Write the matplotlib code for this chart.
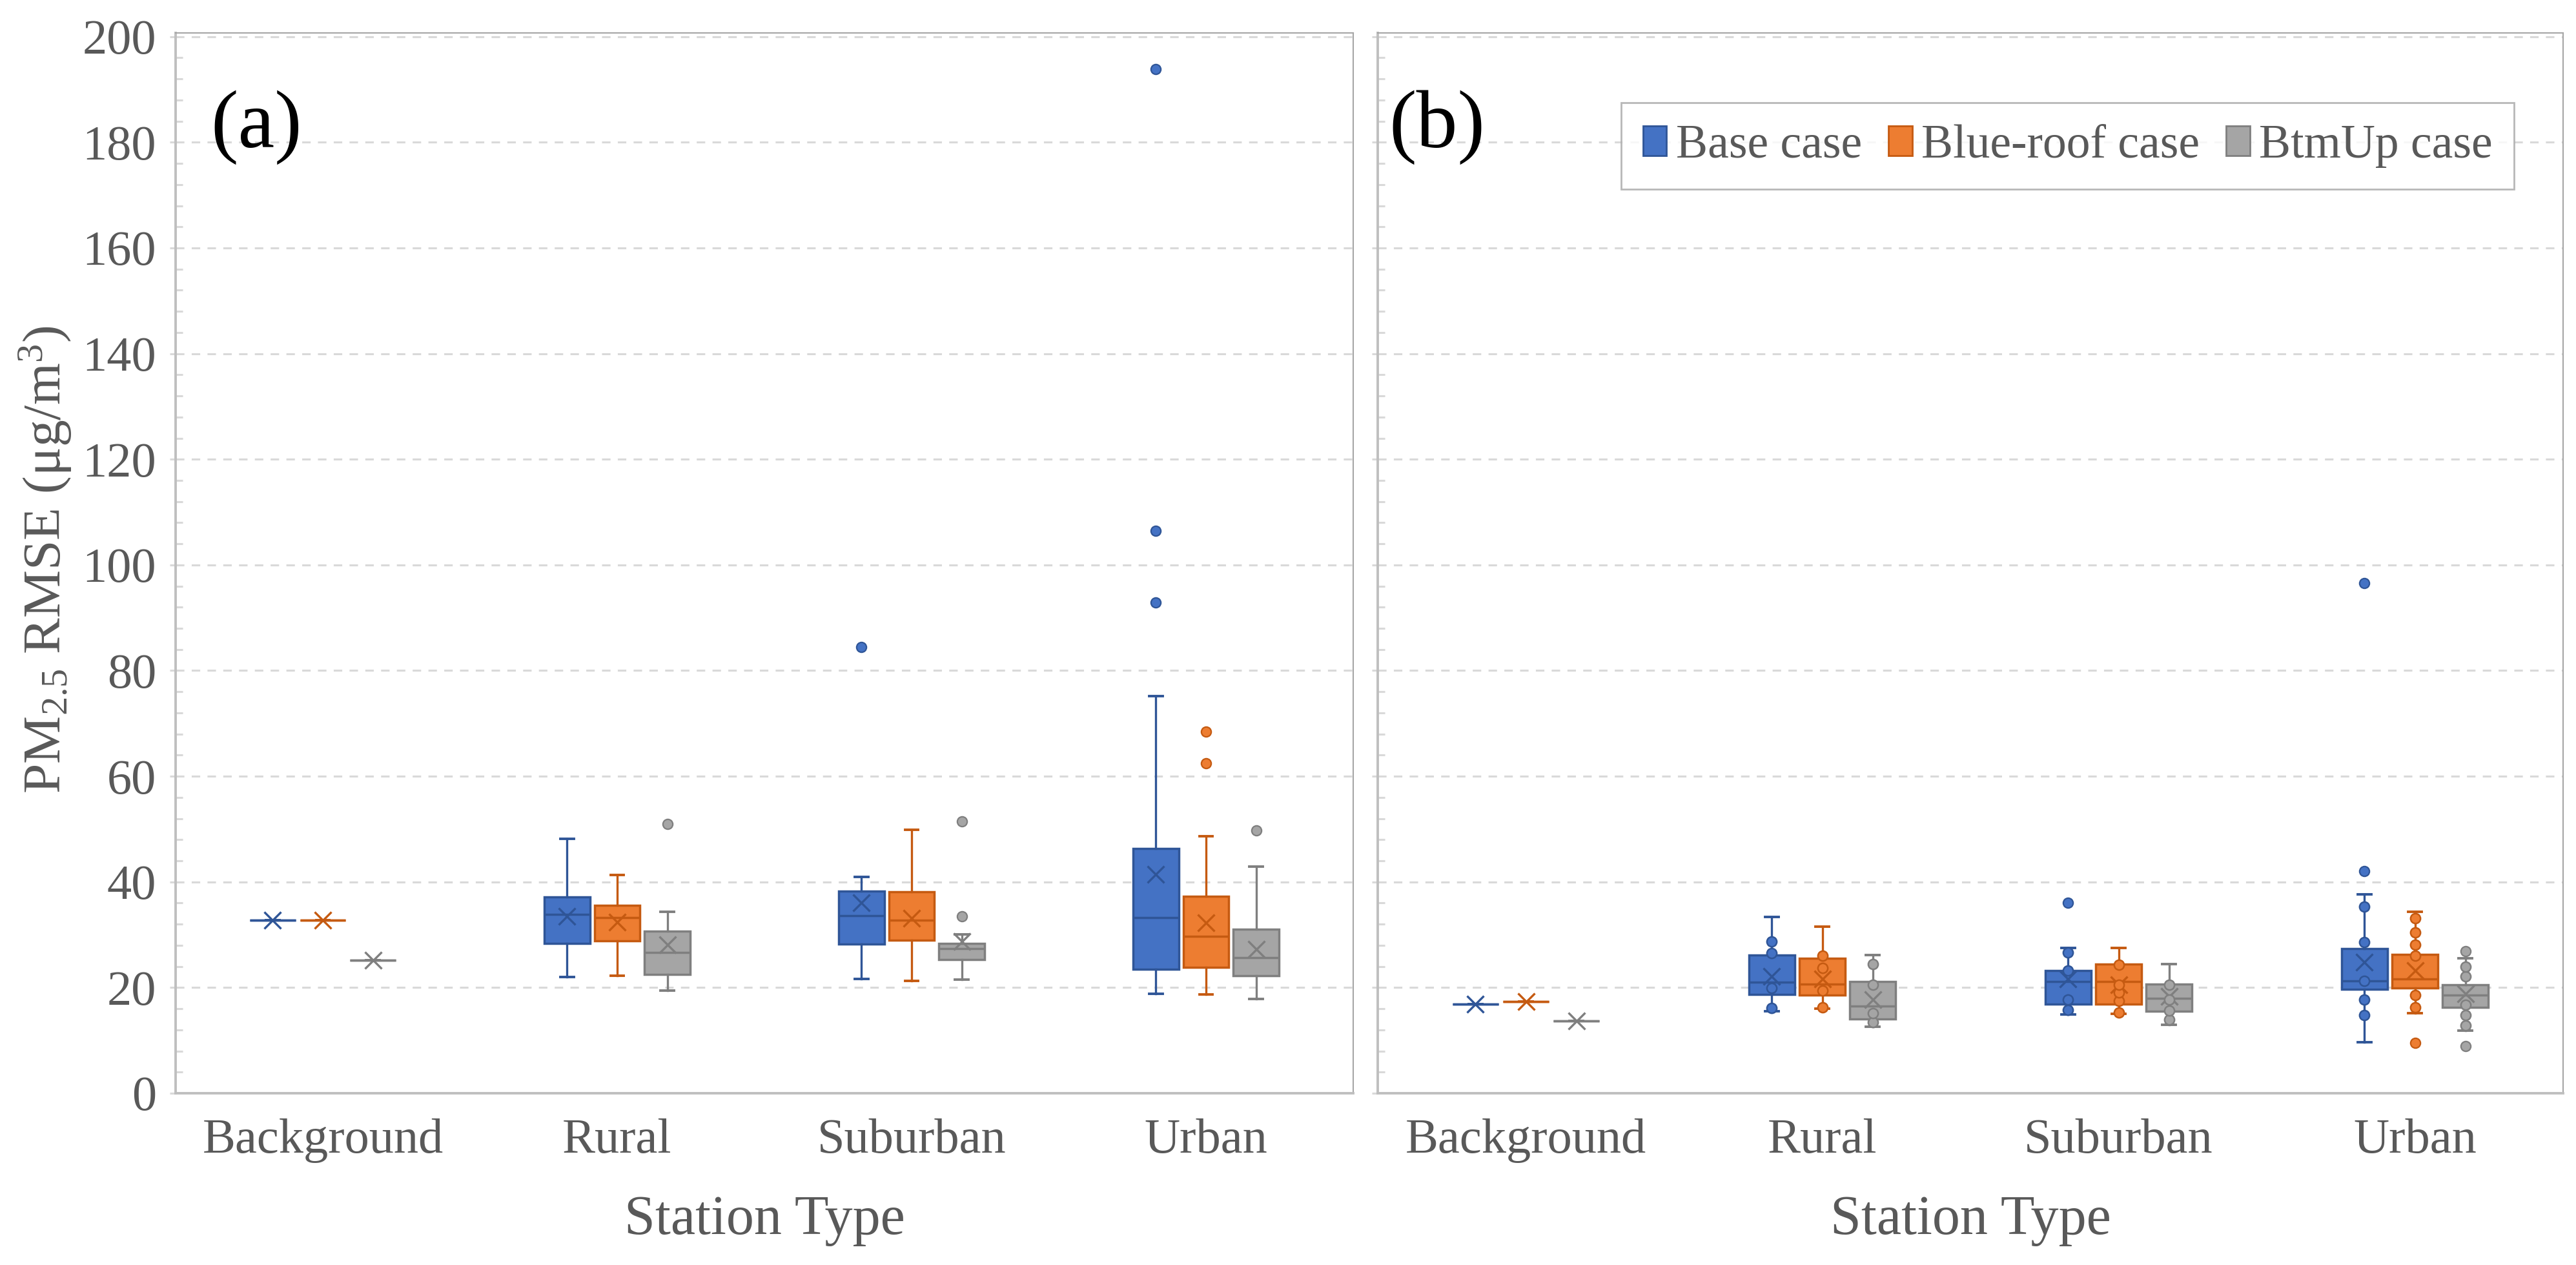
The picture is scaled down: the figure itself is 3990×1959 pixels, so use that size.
import numpy as np
import matplotlib
matplotlib.use("Agg")
import matplotlib.pyplot as plt
from matplotlib.patches import Patch

plt.rcParams['font.family'] = ['Liberation Serif', 'DejaVu Serif']
plt.rcParams['mathtext.fontset'] = 'custom'
plt.rcParams['mathtext.rm'] = 'Liberation Serif'
plt.rcParams['mathtext.it'] = 'Liberation Serif:italic'

cats = ["Background", "Rural", "Suburban", "Urban"]
series = ["Base case", "Blue-roof case", "BtmUp case"]
fills = ["#4472C4", "#ED7D31", "#A5A5A5"]
edges = ["#2F5597", "#C55A11", "#7F7F7F"]

# ---- panel (a): stats per series, one value per station type
a_base_lo = [32.7, 22.0, 21.6, 18.8]
a_base_q1 = [32.7, 28.3, 28.2, 23.5]
a_base_med = [32.7, 33.8, 33.6, 33.2]
a_base_q3 = [32.7, 37.2, 38.3, 46.3]
a_base_hi = [32.7, 48.2, 40.9, 75.2]
a_base_mean = [32.7, 33.5, 36.1, 41.4]
a_base_out = [[], [], [84.5], [92.9, 106.5, 193.9]]

a_blue_lo = [32.7, 22.3, 21.3, 18.7]
a_blue_q1 = [32.7, 28.8, 29.0, 23.8]
a_blue_med = [32.7, 33.3, 32.7, 29.7]
a_blue_q3 = [32.7, 35.6, 38.1, 37.3]
a_blue_hi = [32.7, 41.3, 49.9, 48.6]
a_blue_mean = [32.7, 32.4, 33.1, 32.3]
a_blue_out = [[], [], [], [62.4, 68.4]]

a_btm_lo = [25.2, 19.4, 21.5, 17.8]
a_btm_q1 = [25.2, 22.5, 25.3, 22.2]
a_btm_med = [25.2, 26.6, 27.4, 25.7]
a_btm_q3 = [25.2, 30.7, 28.3, 31.0]
a_btm_hi = [25.2, 34.3, 30.1, 42.9]
a_btm_mean = [25.2, 28.1, 28.7, 27.3]
a_btm_out = [[], [51.0], [33.5, 51.4], [49.7]]

# ---- panel (b)
b_base_lo = [16.9, 15.5, 14.9, 9.6]
b_base_q1 = [16.9, 18.7, 16.9, 19.7]
b_base_med = [16.9, 21.0, 21.2, 21.3]
b_base_q3 = [16.9, 26.2, 23.2, 27.4]
b_base_hi = [16.9, 33.4, 27.5, 37.7]
b_base_mean = [16.9, 22.1, 21.6, 24.8]
b_base_out = [[], [], [36.0], [42.0, 96.5]]
b_base_pts = [[], [16.1, 19.9, 26.5, 28.7], [15.8, 17.7, 23.2, 26.7], [14.8, 17.7, 21.3, 28.6, 35.3]]

b_blue_lo = [17.4, 16.0, 15.0, 15.1]
b_blue_q1 = [17.4, 18.6, 16.9, 19.9]
b_blue_med = [17.4, 20.6, 21.1, 21.6]
b_blue_q3 = [17.4, 25.5, 24.4, 26.3]
b_blue_hi = [17.4, 31.5, 27.5, 34.3]
b_blue_mean = [17.4, 21.6, 20.5, 23.2]
b_blue_out = [[], [], [], [9.5]]
b_blue_pts = [[], [16.2, 19.4, 23.7, 26.0], [15.3, 17.5, 19.1, 20.5, 24.3], [16.2, 18.6, 26.0, 28.1, 30.4, 33.1]]

b_btm_lo = [13.7, 12.6, 13.0, 11.8]
b_btm_q1 = [13.7, 14.1, 15.5, 16.2]
b_btm_med = [13.7, 16.5, 18.0, 18.6]
b_btm_q3 = [13.7, 21.1, 20.7, 20.5]
b_btm_hi = [13.7, 26.2, 24.5, 25.6]
b_btm_mean = [13.7, 17.7, 18.3, 18.8]
b_btm_out = [[], [], [], [8.9, 26.9]]
b_btm_pts = [[], [13.4, 15.1, 20.5, 24.4], [13.9, 15.7, 17.7, 20.5], [12.8, 14.8, 16.7, 22.1, 24.0]]

panel_a = [
    (a_base_lo, a_base_q1, a_base_med, a_base_q3, a_base_hi, a_base_mean, a_base_out, None),
    (a_blue_lo, a_blue_q1, a_blue_med, a_blue_q3, a_blue_hi, a_blue_mean, a_blue_out, None),
    (a_btm_lo, a_btm_q1, a_btm_med, a_btm_q3, a_btm_hi, a_btm_mean, a_btm_out, None),
]
panel_b = [
    (b_base_lo, b_base_q1, b_base_med, b_base_q3, b_base_hi, b_base_mean, b_base_out, b_base_pts),
    (b_blue_lo, b_blue_q1, b_blue_med, b_blue_q3, b_blue_hi, b_blue_mean, b_blue_out, b_blue_pts),
    (b_btm_lo, b_btm_q1, b_btm_med, b_btm_q3, b_btm_hi, b_btm_mean, b_btm_out, b_btm_pts),
]

W, H = 3991, 1959
fig = plt.figure(figsize=(W / 100, H / 100), dpi=100)
txt = "#595959"
offsets = [-0.17, 0.0, 0.17]
bw = 0.155

ax_a = fig.add_axes([272 / W, 1 - 1693 / H, (2096 - 272) / W, (1693 - 51) / H])
ax_b = fig.add_axes([2134 / W, 1 - 1693 / H, (3970 - 2134) / W, (1693 - 51) / H])


def draw_panel(ax, panel, show_labels):
    x = np.arange(len(cats))
    for k, (lo, q1, med, q3, hi, mean, out, pts) in enumerate(panel):
        stats = []
        for i in range(len(cats)):
            stats.append(dict(whislo=lo[i], q1=q1[i], med=med[i], q3=q3[i], whishi=hi[i],
                              mean=mean[i], fliers=out[i]))
        fc, ec = fills[k], edges[k]
        ax.bxp(stats, positions=x + offsets[k], widths=bw, capwidths=0.046,
               patch_artist=True, showmeans=True, meanline=False,
               boxprops=dict(facecolor=fc, edgecolor=ec, linewidth=2.5),
               medianprops=dict(color=ec, linewidth=2.5),
               whiskerprops=dict(color=ec, linewidth=2.4),
               capprops=dict(color=ec, linewidth=2.8),
               flierprops=dict(marker='o', markerfacecolor=fc, markeredgecolor=ec,
                               markersize=11, markeredgewidth=1.6),
               meanprops=dict(marker='x', markeredgecolor=ec, markersize=19,
                              markeredgewidth=2.4),
               zorder=3)
        if pts is not None:
            for i in range(len(cats)):
                if pts[i]:
                    ax.plot([x[i] + offsets[k]] * len(pts[i]), pts[i], 'o', markerfacecolor=fc,
                            markeredgecolor=ec, markersize=11, markeredgewidth=1.8,
                            linestyle='none', zorder=4)

    ax.set_xlim(-0.5, 3.5)
    ax.set_ylim(0, 200.7)
    ax.set_yticks(np.arange(0, 201, 20))
    ax.set_yticks(np.arange(0, 201, 4), minor=True)
    ax.yaxis.grid(True, color="#D9D9D9", linewidth=2.2, linestyle=(0, (4.3, 3.7)))
    ax.set_axisbelow(True)
    ax.set_xticks(x)
    ax.set_xticklabels(cats)
    ax.tick_params(axis='x', length=0, pad=28, labelsize=55, labelcolor=txt)
    ax.tick_params(axis='y', which='major', direction='out', length=6.5, width=2.2,
                   color="#D9D9D9", pad=15, labelsize=55, labelcolor=txt,
                   labelleft=show_labels)
    ax.tick_params(axis='y', which='minor', direction='in', length=8, width=2.2,
                   color="#D9D9D9")
    for s in ['top', 'right']:
        ax.spines[s].set_color("#A6A6A6")
        ax.spines[s].set_linewidth(1.5)
    for s in ['left', 'bottom']:
        ax.spines[s].set_color("#BFBFBF")
        ax.spines[s].set_linewidth(2.8)


draw_panel(ax_a, panel_a, True)
draw_panel(ax_b, panel_b, False)

fig.text(326 / W, 1 - 228 / H, "(a)", fontsize=92, color="black", ha='left', va='baseline')
fig.text(2151 / W, 1 - 228 / H, "(b)", fontsize=92, color="black", ha='left', va='baseline')

fig.text(1184 / W, 1 - 1911 / H, "Station Type", fontsize=62, color=txt, ha='center', va='baseline')
fig.text(3052 / W, 1 - 1911 / H, "Station Type", fontsize=62, color=txt, ha='center', va='baseline')
fig.text(70 / W, 1 - 867 / H, "PM$_{2.5}$ RMSE (μg/m$^3$)", fontsize=60, color=txt,
         rotation=90, ha='center', va='center')

handles = [Patch(facecolor=fills[k], edgecolor=edges[k], linewidth=2) for k in range(3)]
leg = ax_b.legend(handles, series, loc='upper right', bbox_to_anchor=(0.9586, 0.934), ncol=3,
                  fontsize=53, frameon=True, fancybox=False, handlelength=0.5, handleheight=0.6,
                  handletextpad=0.2, columnspacing=0.55, borderpad=0.45, borderaxespad=0)
leg.get_frame().set_edgecolor("#A6A6A6")
leg.get_frame().set_linewidth(2)
for t in leg.get_texts():
    t.set_color(txt)

fig.savefig("out.png", dpi=100, facecolor="white")
